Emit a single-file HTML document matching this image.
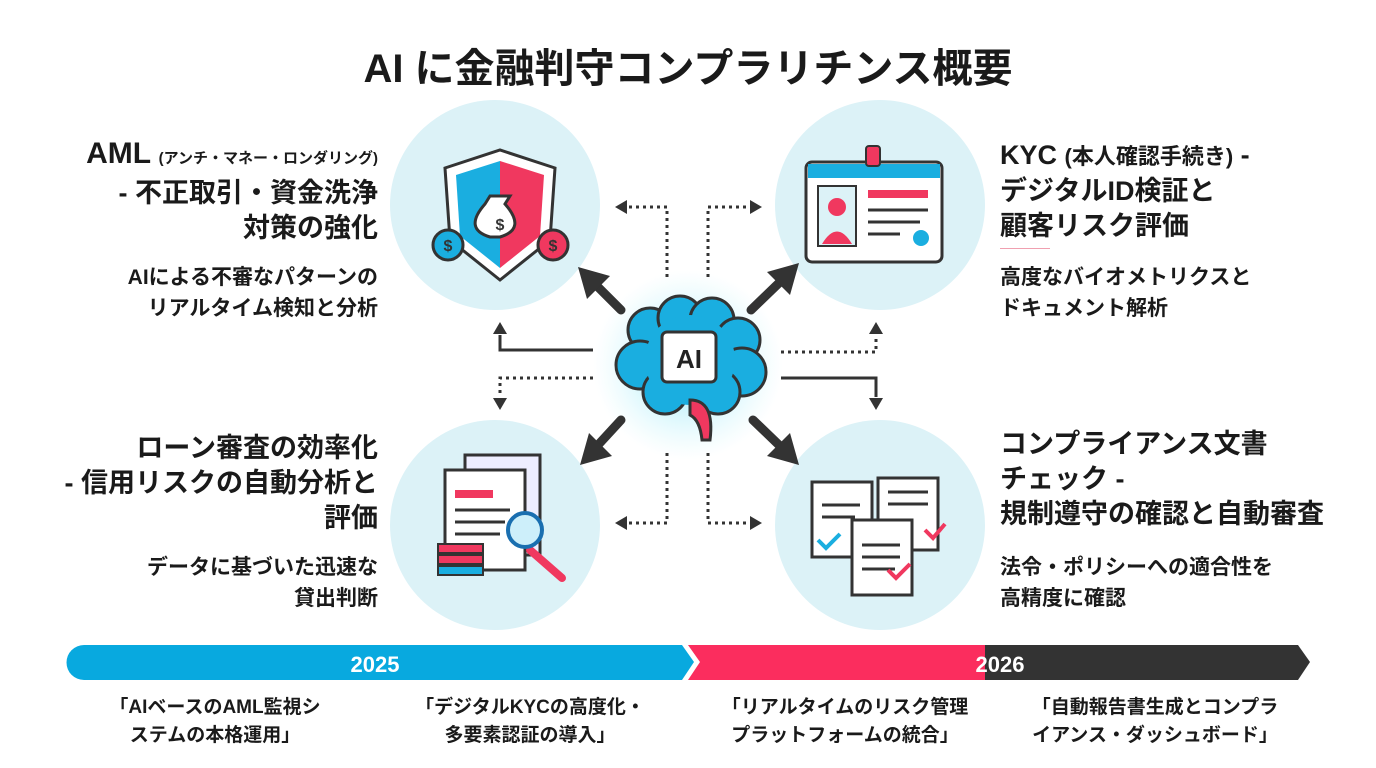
<!DOCTYPE html>
<html><head><meta charset="utf-8"><style>
body{margin:0;width:1376px;height:768px;background:#fff;overflow:hidden;position:relative;font-family:"Liberation Sans","Noto Sans CJK JP",sans-serif;color:#1a1a1a}
.t{position:absolute;font-weight:bold;white-space:nowrap}
.r{text-align:right}
</style></head><body>
<div class="t" style="left:0;width:1376px;top:36px;text-align:center;font-size:40px">AI に金融判守コンプラリチンス概要</div>

<div class="t r" style="right:998px;top:136px;font-size:27px;line-height:35px"><span style="font-size:30px">AML</span> <span style="font-size:15px">(アンチ・マネー・ロンダリング)</span><br>- 不正取引・資金洗浄<br>対策の強化</div>
<div class="t r" style="right:998px;top:262px;font-size:21px;line-height:31px">AIによる不審なパターンの<br>リアルタイム検知と分析</div>

<div class="t r" style="right:998px;top:431px;font-size:27px;line-height:35px">ローン審査の効率化<br>- 信用リスクの自動分析と<br>評価</div>
<div class="t r" style="right:998px;top:552px;font-size:21px;line-height:31px">データに基づいた迅速な<br>貸出判断</div>

<div class="t" style="left:1000px;top:138px;font-size:27px;line-height:35px">KYC <span style="font-size:22px">(本人確認手続き)</span> -<br>デジタルID検証と<br>顧客リスク評価</div>
<div style="position:absolute;left:1000px;top:248px;width:50px;height:1px;background:#f0a0b0"></div>
<div class="t" style="left:1000px;top:262px;font-size:21px;line-height:31px">高度なバイオメトリクスと<br>ドキュメント解析</div>

<div class="t" style="left:1000px;top:427px;font-size:27px;line-height:35px">コンプライアンス文書<br>チェック -<br>規制遵守の確認と自動審査</div>
<div class="t" style="left:1000px;top:552px;font-size:21px;line-height:31px">法令・ポリシーへの適合性を<br>高精度に確認</div>

<svg width="1376" height="768" style="position:absolute;left:0;top:0">
<defs>
<radialGradient id="g"><stop offset="0" stop-color="#6fe0f5" stop-opacity=".8"/><stop offset="1" stop-color="#bff3fb" stop-opacity="0"/></radialGradient>
</defs>
<circle cx="495" cy="205" r="105" fill="#dcf2f7"/>
<circle cx="880" cy="205" r="105" fill="#dcf2f7"/>
<circle cx="495" cy="525" r="105" fill="#dcf2f7"/>
<circle cx="880" cy="525" r="105" fill="#dcf2f7"/>
<circle cx="688" cy="365" r="95" fill="url(#g)"/>
<!-- shield -->
<path d="M445,168 L500,150 L555,168 L550,240 L500,280 L450,240Z" fill="#fff" stroke="#333" stroke-width="3"/>
<path d="M456,175 L500,161 L500,268 L460,236Z" fill="#1aaee0"/>
<path d="M500,161 L544,175 L540,236 L500,268Z" fill="#f0385f"/>
<path d="M490,196 h20 l-5,8 q22,25 -5,33 h-10 q-27,-8 -5,-33z" fill="#fff" stroke="#333" stroke-width="3"/>
<text x="500" y="230" text-anchor="middle" font-size="16" font-weight="bold" fill="#333">$</text>
<circle cx="448" cy="245" r="15" fill="#1aaee0" stroke="#333" stroke-width="3"/>
<circle cx="553" cy="245" r="15" fill="#f0385f" stroke="#333" stroke-width="3"/>
<text x="448" y="251" text-anchor="middle" font-size="16" font-weight="bold" fill="#333">$</text>
<text x="553" y="251" text-anchor="middle" font-size="16" font-weight="bold" fill="#333">$</text>
<!-- id card -->
<rect x="806" y="162" width="136" height="100" rx="6" fill="#fff" stroke="#333" stroke-width="3"/>
<rect x="808" y="164" width="132" height="14" fill="#1aaee0"/>
<rect x="866" y="146" width="14" height="20" rx="3" fill="#f0385f" stroke="#333" stroke-width="2"/>
<rect x="818" y="186" width="38" height="60" fill="#dcf2f7" stroke="#333" stroke-width="2"/>
<circle cx="837" cy="207" r="9" fill="#f0385f"/>
<path d="M822,244 q15,-25 30,0z" fill="#f0385f"/>
<rect x="868" y="190" width="60" height="8" fill="#f0385f"/>
<g stroke="#333" stroke-width="3"><line x1="868" y1="210" x2="928" y2="210"/><line x1="868" y1="222" x2="920" y2="222"/><line x1="868" y1="234" x2="900" y2="234"/></g>
<circle cx="921" cy="238" r="8" fill="#1aaee0"/>
<!-- loan docs -->
<rect x="465" y="455" width="75" height="100" fill="#eef" stroke="#333" stroke-width="3"/>
<rect x="445" y="470" width="80" height="100" fill="#fff" stroke="#333" stroke-width="3"/>
<rect x="455" y="490" width="38" height="8" fill="#f0385f"/>
<g stroke="#333" stroke-width="3"><line x1="455" y1="510" x2="510" y2="510"/><line x1="455" y1="522" x2="505" y2="522"/><line x1="455" y1="534" x2="500" y2="534"/></g>
<g fill="#f0385f" stroke="#333" stroke-width="2"><rect x="438" y="544" width="45" height="9"/><rect x="438" y="555" width="45" height="9"/><rect x="438" y="566" width="45" height="9" fill="#1aaee0"/></g>
<line x1="530" y1="550" x2="562" y2="578" stroke="#f0385f" stroke-width="8" stroke-linecap="round"/>
<circle cx="525" cy="530" r="17" fill="#cdeffa" stroke="#1a6fb0" stroke-width="4"/>
<!-- compliance docs -->
<rect x="878" y="478" width="60" height="72" fill="#fff" stroke="#333" stroke-width="3"/>
<rect x="812" y="482" width="60" height="75" fill="#fff" stroke="#333" stroke-width="3"/>
<rect x="852" y="520" width="60" height="75" fill="#fff" stroke="#333" stroke-width="3"/>
<g stroke="#333" stroke-width="3"><line x1="822" y1="505" x2="860" y2="505"/><line x1="822" y1="517" x2="855" y2="517"/><line x1="862" y1="545" x2="900" y2="545"/><line x1="862" y1="557" x2="900" y2="557"/><line x1="862" y1="569" x2="895" y2="569"/><line x1="888" y1="492" x2="928" y2="492"/><line x1="888" y1="504" x2="928" y2="504"/></g>
<path d="M818,540 l8,8 l14,-14" stroke="#1aaee0" stroke-width="4" fill="none"/>
<path d="M888,570 l8,8 l14,-14" stroke="#f0385f" stroke-width="4" fill="none"/>
<path d="M925,530 l8,8 l12,-14" stroke="#f0385f" stroke-width="4" fill="none"/>
<!-- brain -->
<g fill="#1aaee0" stroke="#333" stroke-width="3">
<circle cx="650" cy="330" r="22"/><circle cx="680" cy="318" r="22"/><circle cx="712" cy="320" r="22"/><circle cx="738" cy="340" r="22"/>
<circle cx="640" cy="365" r="24"/><circle cx="742" cy="372" r="24"/><circle cx="665" cy="392" r="22"/><circle cx="718" cy="392" r="22"/>
</g>
<g fill="#1aaee0"><circle cx="690" cy="360" r="45"/></g>
<path d="M690,400 q25,0 20,40 l-8,0 q-2,-20 -12,-25z" fill="#f0385f" stroke="#333" stroke-width="3"/>
<rect x="662" y="332" width="54" height="50" rx="5" fill="#fff" stroke="#333" stroke-width="3"/>
<text x="689" y="368" text-anchor="middle" font-size="26" font-weight="bold" font-family="Liberation Sans" fill="#222">AI</text>
<!-- thick arrows -->
<g stroke="#333" stroke-width="9" fill="none" stroke-linecap="round">
<line x1="621" y1="310" x2="596" y2="285"/>
<line x1="751" y1="310" x2="780" y2="282"/>
<line x1="621" y1="420" x2="598" y2="445"/>
<line x1="753" y1="420" x2="780" y2="446"/>
</g>
<g fill="#333">
<path d="M578,267 L610,276 L587,299Z"/>
<path d="M799,263 L790,295 L767,272Z"/>
<path d="M580,465 L589,433 L612,456Z"/>
<path d="M799,465 L767,456 L790,433Z"/>
</g>
<g stroke="#333" stroke-width="3" fill="none">
<path d="M667,277 V207 H628" stroke-dasharray="3,4"/>
<path d="M708,277 V207 H750" stroke-dasharray="3,4"/>
<path d="M667,453 V523 H628" stroke-dasharray="3,4"/>
<path d="M708,453 V523 H750" stroke-dasharray="3,4"/>
<path d="M593,350 H500 V335"/>
<path d="M593,378 H500 V397" stroke-dasharray="3,4"/>
<path d="M781,352 H876 V335" stroke-dasharray="3,4"/>
<path d="M781,378 H876 V397"/>
</g>
<g fill="#333">
<path d="M615,207 l12,-7 v14z"/><path d="M762,207 l-12,-7 v14z"/>
<path d="M615,523 l12,-7 v14z"/><path d="M762,523 l-12,-7 v14z"/>
<path d="M500,322 l-7,12 h14z"/><path d="M500,410 l-7,-12 h14z"/>
<path d="M876,322 l-7,12 h14z"/><path d="M876,410 l-7,-12 h14z"/>
</g>
<!-- timeline -->
<path d="M84,645 H682 L694,662 L682,680 H84 A17,17 0 0 1 84,645Z" fill="#08a9df"/>
<path d="M688,645 H985 V680 H688 L700,662Z" fill="#fb2d5e"/>
<path d="M985,645 H1298 L1310,662 L1298,680 H985Z" fill="#333"/>
<text x="375" y="672" text-anchor="middle" font-size="22" font-weight="bold" fill="#fff" font-family="Liberation Sans">2025</text>
<text x="1000" y="672" text-anchor="middle" font-size="22" font-weight="bold" fill="#fff" font-family="Liberation Sans">2026</text>
</svg>

<div class="t" style="left:80px;width:270px;top:694px;font-size:19px;line-height:28px;text-align:center">「AIベースのAML監視シ<br>ステムの本格運用」</div>
<div class="t" style="left:395px;width:270px;top:694px;font-size:19px;line-height:28px;text-align:center">「デジタルKYCの高度化・<br>多要素認証の導入」</div>
<div class="t" style="left:705px;width:280px;top:694px;font-size:19px;line-height:28px;text-align:center">「リアルタイムのリスク管理<br>プラットフォームの統合」</div>
<div class="t" style="left:1010px;width:290px;top:694px;font-size:19px;line-height:28px;text-align:center">「自動報告書生成とコンプラ<br>イアンス・ダッシュボード」</div>
</body></html>
